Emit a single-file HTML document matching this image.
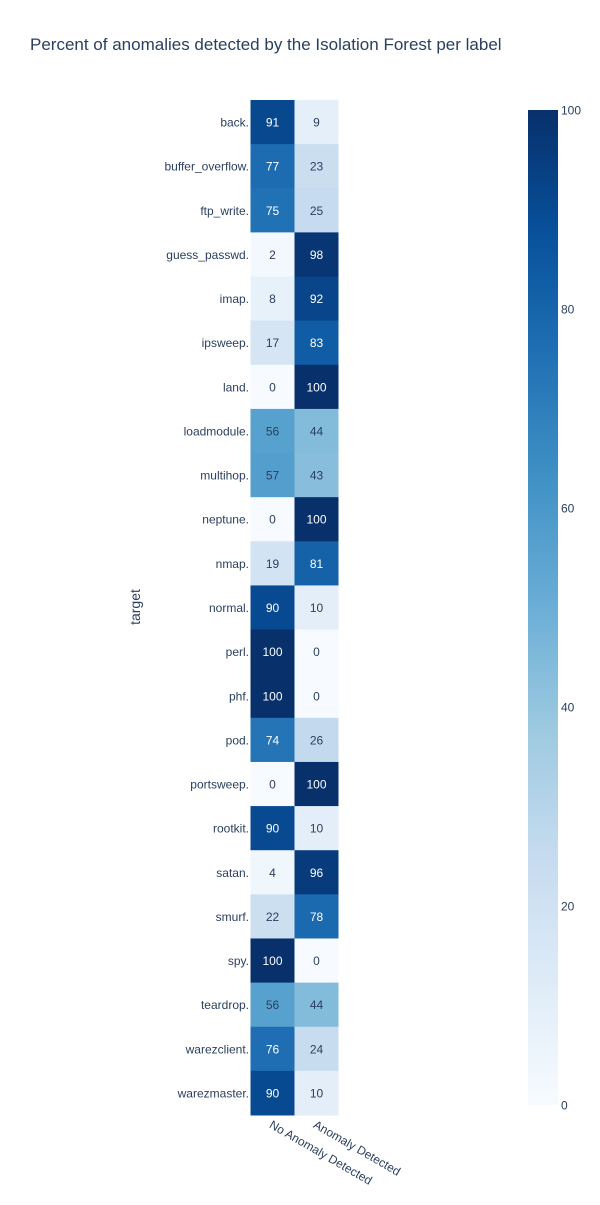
<!DOCTYPE html>
<html><head><meta charset="utf-8"><style>
body{margin:0;background:#fff;font-family:"Liberation Sans",Arial,sans-serif}
svg text{font-family:"Liberation Sans",Arial,sans-serif}
</style></head><body>
<svg id="chart" width="600" height="1200" xmlns="http://www.w3.org/2000/svg">
<defs><linearGradient id="cbg" x1="0" y1="1" x2="0" y2="0">
<stop offset="0" stop-color="rgb(247,251,255)"/><stop offset="0.125" stop-color="rgb(222,235,247)"/><stop offset="0.25" stop-color="rgb(198,219,239)"/><stop offset="0.375" stop-color="rgb(158,202,225)"/><stop offset="0.5" stop-color="rgb(107,174,214)"/><stop offset="0.625" stop-color="rgb(66,146,198)"/><stop offset="0.75" stop-color="rgb(33,113,181)"/><stop offset="0.875" stop-color="rgb(8,81,156)"/><stop offset="1" stop-color="rgb(8,48,107)"/>
</linearGradient></defs>
<text x="30" y="50" font-size="17" fill="#2a3f5f">Percent of anomalies detected by the Isolation Forest per label</text>
<text transform="translate(140,607) rotate(-90)" text-anchor="middle" font-size="14" fill="#2a3f5f">target</text>
<rect x="528" y="110" width="30" height="995" fill="url(#cbg)"/>
<g id="cells"></g><g id="ylabels"></g><g id="xlabels"></g><g id="cbticks"></g>
</svg>
<script>
const categories=["back.","buffer_overflow.","ftp_write.","guess_passwd.","imap.","ipsweep.","land.","loadmodule.","multihop.","neptune.","nmap.","normal.","perl.","phf.","pod.","portsweep.","rootkit.","satan.","smurf.","spy.","teardrop.","warezclient.","warezmaster."];
const columns=["No Anomaly Detected","Anomaly Detected"];
const noAnomaly=[91,77,75,2,8,17,0,56,57,0,19,90,100,100,74,0,90,4,22,100,56,76,90];
const anomaly=[9,23,25,98,92,83,100,44,43,100,81,10,0,0,26,100,10,96,78,0,44,24,10];
const cbTicks=[0,20,40,60,80,100];
const NS="http://www.w3.org/2000/svg";
const stops=[[247,251,255],[222,235,247],[198,219,239],[158,202,225],[107,174,214],[66,146,198],[33,113,181],[8,81,156],[8,48,107]];
function color(v){const t=Math.max(0,Math.min(1,v/100))*8;const i=Math.min(7,Math.floor(t)),f=t-i;const a=stops[i],b=stops[i+1];return `rgb(${a.map((c,k)=>Math.round(c+(b[k]-c)*f)).join(',')})`;}
const x0=250.5,cw=44,y0=100,rh=1015/categories.length;
const yScale=i=>y0+i*rh, xScale=j=>x0+j*cw, cbScale=v=>1105-v/100*995;
function el(tag,attrs,parent){const e=document.createElementNS(NS,tag);for(const k in attrs)e.setAttribute(k,attrs[k]);parent.appendChild(e);return e;}
const cells=document.getElementById('cells'),yl=document.getElementById('ylabels'),xl=document.getElementById('xlabels'),cb=document.getElementById('cbticks');
const series=[noAnomaly,anomaly];
categories.forEach((c,i)=>{
  series.forEach((s,j)=>{
    const r=el('rect',{x:xScale(j),y:yScale(i),width:cw,height:rh+0.5,fill:color(s[i])},cells);
    
    
    const t=el('text',{x:xScale(j)+cw/2,y:yScale(i)+rh/2+4.5,'text-anchor':'middle','font-size':12,fill:s[i]>=65?'#fff':'#2a3f5f'},cells);
    t.textContent=s[i];
    
    
  });
  const l=el('text',{x:249,y:yScale(i)+rh/2+4.5,'text-anchor':'end','font-size':12,fill:'#2a3f5f'},yl);
  l.textContent=c;
  
  
});
columns.forEach((c,j)=>{
  const cx=xScale(j)+cw/2;
  const t=el('text',{transform:`translate(${cx-4},${1127}) rotate(30)`,'font-size':12,fill:'#2a3f5f'},xl);
  t.textContent=c;
  
  
});
cbTicks.forEach(v=>{
  const t=el('text',{x:561,y:cbScale(v)+4.5,'font-size':12,fill:'#2a3f5f'},cb);
  t.textContent=v;
  
  
});
</script>
</body></html>
